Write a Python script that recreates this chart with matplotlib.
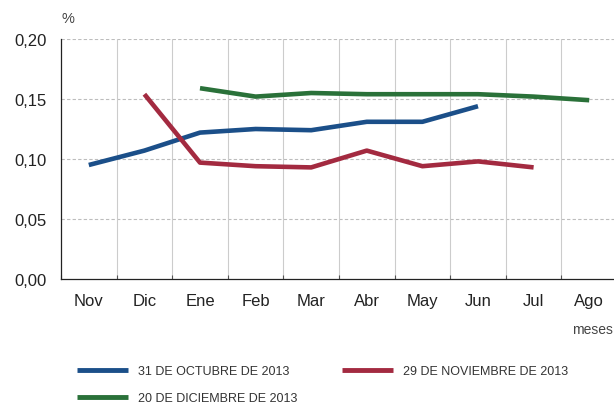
import matplotlib
matplotlib.use("Agg")
import matplotlib.pyplot as plt
from matplotlib.lines import Line2D
import numpy as np

months = ["Nov", "Dic", "Ene", "Feb", "Mar", "Abr", "May", "Jun", "Jul", "Ago"]
oct_vals = [0.095, 0.107, 0.122, 0.125, 0.124, 0.131, 0.131, 0.144]      # Nov..Jun
nov_vals = [0.154, 0.097, 0.094, 0.093, 0.107, 0.094, 0.098, 0.093]      # Dic..Jul
dic_vals = [0.159, 0.152, 0.155, 0.154, 0.154, 0.154, 0.152, 0.149]      # Ene..Ago
yticks = [0.00, 0.05, 0.10, 0.15, 0.20]
ytick_labels = ["0,00", "0,05", "0,10", "0,15", "0,20"]
labels = ["31 DE OCTUBRE DE 2013", "29 DE NOVIEMBRE DE 2013", "20 DE DICIEMBRE DE 2013"]

c_blue = "#1b4f89"
c_red = "#a32a40"
c_green = "#2a7139"

plt.rcParams["font.family"] = ["Liberation Sans", "DejaVu Sans"]

fig = plt.figure(figsize=(6.14, 4.06), dpi=100)
ax = fig.add_axes([61/614, 1-280/406, (617-61)/614, 240/406])

x = np.arange(len(months))
lw = 3.3
ax.plot(x[0:len(oct_vals)], oct_vals, color=c_blue, lw=lw, solid_capstyle="butt", zorder=3)
ax.plot(x[1:1+len(nov_vals)], nov_vals, color=c_red, lw=lw, solid_capstyle="butt", zorder=3)
ax.plot(x[2:2+len(dic_vals)], dic_vals, color=c_green, lw=lw, solid_capstyle="butt", zorder=3)

ax.set_xlim(-0.5, len(months) - 0.5)
ax.set_ylim(0, 0.20)

ax.set_yticks(yticks)
ax.set_yticklabels(ytick_labels, fontsize=12, color="#222222")
ax.tick_params(axis="y", length=0, pad=10)

ax.set_xticks(x)
ax.set_xticklabels(months, fontsize=12, color="#222222")
ax.set_xticks(np.arange(-0.5, len(months)), minor=True)
ax.tick_params(axis="x", which="major", length=0, pad=10)
ax.tick_params(axis="x", which="minor", direction="in", length=3, width=0.8, color="#555555")

for yv in yticks[1:]:
    ax.axhline(yv, color="#bdbdbd", lw=0.8, ls=(0, (3, 2)), zorder=1)
for xv in np.arange(0.5, len(months) - 0.5):
    ax.axvline(xv, color="#cccccc", lw=0.8, zorder=1)

for s in ["top", "right"]:
    ax.spines[s].set_visible(False)
ax.spines["left"].set_color("#222222")
ax.spines["bottom"].set_color("#222222")
ax.spines["left"].set_linewidth(0.9)
ax.spines["bottom"].set_linewidth(0.9)

fig.text(61/614, 1-19/406, "%", fontsize=10.5, color="#444444", ha="left", va="center")
fig.text(572/614, 1-330/406, "meses", fontsize=10, color="#444444", ha="left", va="center")

legfont = {"family": ["Liberation Sans"], "size": 9}
h_blue = Line2D([], [], color=c_blue, lw=3.5, solid_capstyle="butt")
h_red = Line2D([], [], color=c_red, lw=3.5, solid_capstyle="butt")
h_green = Line2D([], [], color=c_green, lw=3.5, solid_capstyle="butt")

leg1 = fig.legend([h_blue, h_green], [labels[0], labels[2]], loc="upper left",
                  bbox_to_anchor=(77/614, 1-366/406), frameon=False, prop=legfont,
                  handlelength=4.1, handletextpad=0.75, labelspacing=1.2,
                  borderpad=0, borderaxespad=0, labelcolor="#333333")
leg2 = fig.legend([h_red], [labels[1]], loc="upper left",
                  bbox_to_anchor=(342/614, 1-366/406), frameon=False, prop=legfont,
                  handlelength=4.1, handletextpad=0.75, labelspacing=1.2,
                  borderpad=0, borderaxespad=0, labelcolor="#333333")

fig.savefig("out.png", dpi=100)
